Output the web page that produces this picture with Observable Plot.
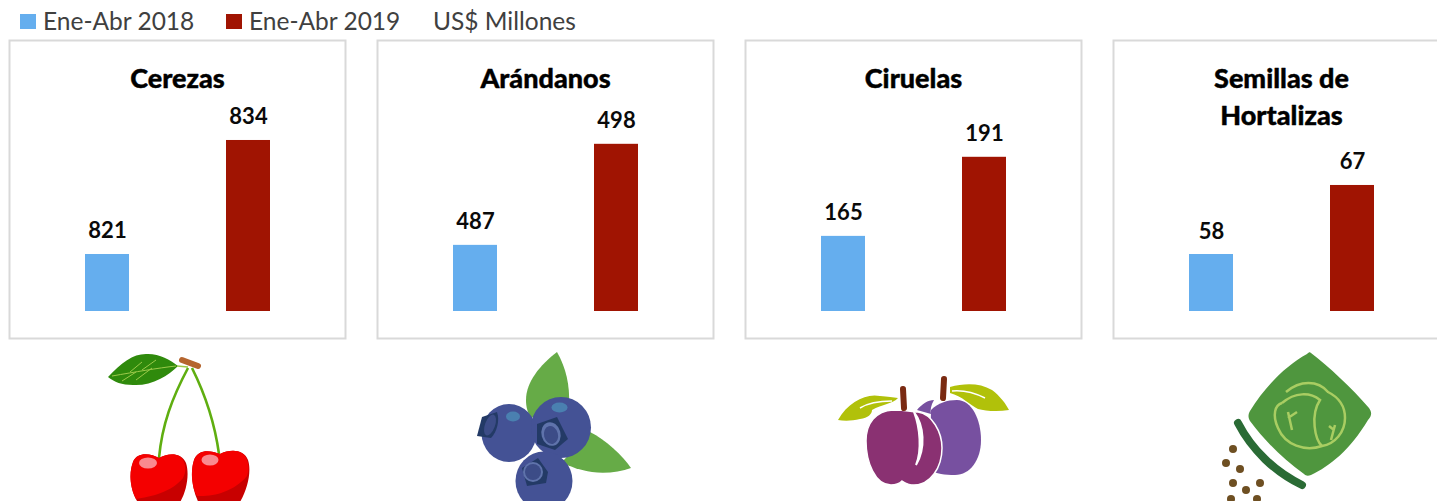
<!DOCTYPE html>
<html><head><meta charset="utf-8">
<script src="https://cdn.jsdelivr.net/npm/d3@7"></script>
<script src="https://cdn.jsdelivr.net/npm/@observablehq/plot@0.6"></script>
<style>
html,body{margin:0;padding:0;background:#fff;width:1437px;height:501px;overflow:hidden;position:relative}
.lg{position:absolute;top:7px;font:400 24.5px/28px Lato,sans-serif;color:#404040;white-space:nowrap}
.sw{position:absolute;top:14px;width:16px;height:15px}
.panel{position:absolute;top:39px}
#icons{position:absolute;left:0;top:0}
</style></head><body>
<script>
const periods = ["Ene-Abr 2018", "Ene-Abr 2019"];
const colors = ["#65aeee", "#a01402"];
const unit = "US$ Millones";
const products = ["Cerezas", "Arándanos", "Ciruelas", "Semillas de\nHortalizas"];
const values2018 = [821, 487, 165, 58];
const values2019 = [834, 498, 191, 67];
// the original panels use independent, truncated value axes
const axisFloor = [814.5, 479.8, 140.3, 50.57];
const axisCeil = [845.4, 509.3, 229.4, 85.9];
const panelLeft = [8, 376, 744, 1112];

const font = "Lato, sans-serif";
function legend(text, left, swatch) {
  if (swatch) {
    const s = document.createElement("div");
    s.className = "sw"; s.style.left = (left - 23) + "px"; s.style.background = swatch;
    document.body.append(s);
  }
  const d = document.createElement("div");
  d.className = "lg"; d.style.left = left + "px"; d.textContent = text;
  document.body.append(d);
}
legend(periods[0], 43, colors[0]);
legend(periods[1], 249, colors[1]);
legend(unit, 433);

products.forEach((name, i) => {
  const rows = [
    {period: periods[0], value: values2018[i]},
    {period: periods[1], value: values2019[i]}
  ];
  const chart = Plot.plot({
    width: 338, height: 300,
    marginTop: 1, marginRight: 1, marginBottom: 1, marginLeft: 1,
    style: {fontFamily: font, background: "transparent", overflow: "visible"},
    x: {axis: null, domain: periods, range: [76.5, 261.5], paddingInner: 0.69, paddingOuter: 0},
    y: {axis: null, domain: [axisFloor[i], axisCeil[i]], range: [272, 1]},
    color: {domain: periods, range: colors},
    marks: [
      Plot.frame({stroke: "#d9d9d9", strokeWidth: 2}),
      Plot.barY(rows, {x: "period", y1: () => axisFloor[i], y2: "value", fill: "period"}),
      Plot.text(rows, {x: "period", y: "value", text: d => String(d.value), dy: -16, lineAnchor: "bottom",
        fontSize: 22, fontWeight: 700, fill: "#0a0a0a"}),
      Plot.text([name], {frameAnchor: "top", dy: 21, lineAnchor: "top", lineHeight: 1.37,
        fontSize: 27, fontWeight: 900, fill: "#000", stroke: "#000", strokeWidth: 0.4, text: d => d})
    ]
  });
  chart.classList.add("panel");
  chart.style.left = panelLeft[i] + "px";
  document.body.append(chart);
});

const icons = `<svg id="icons" width="1437" height="501" xmlns="http://www.w3.org/2000/svg">
<!-- cherries -->
<path d="M108 377C122 362 134 353 148 354C160 354 170 360 178 366C168 376 152 386 133 385C122 385 114 382 108 377Z" fill="#2f8a0c"/>
<path d="M112 376C135 372 158 368 176 366M130 372L142 362M142 370L156 360M122 381L136 372M136 380L152 368" stroke="#9cc94a" stroke-width="1" fill="none"/>
<path d="M177 366L188 367" stroke="#9cc94a" stroke-width="1.5"/>
<path d="M188 368C172 398 162 425 159 458" stroke="#5fae10" stroke-width="2.6" fill="none"/>
<path d="M192 368C206 396 215 425 219 454" stroke="#5fae10" stroke-width="2.6" fill="none"/>
<path d="M182 360L198 366" stroke="#b5652e" stroke-width="6" stroke-linecap="round"/>
<path d="M159 458C150 453 137 452 133 462C128 475 131 495 140 505L178 505C186 495 190 475 186 463C182 452 168 453 159 458Z" fill="#c80000"/>
<path d="M159 458C150 453 137 452 133 462C128 475 131 490 136 499C150 497 172 492 183 478C186 472 186 468 184 462C180 452 168 453 159 458Z" fill="#f40000"/>
<path d="M220 454C210 450 198 449 194 460C190 472 192 492 200 505L238 505C247 492 252 472 248 460C244 449 230 449 220 454Z" fill="#c80000"/>
<path d="M220 454C210 450 198 449 194 460C190 472 192 488 197 496C212 497 234 492 247 476C249 470 249 465 247 460C244 449 230 449 220 454Z" fill="#f40000"/>
<ellipse cx="148" cy="463" rx="9" ry="5.5" fill="#f98a8f"/>
<ellipse cx="210" cy="460" rx="8.5" ry="5.5" fill="#f98a8f"/>
<!-- blueberries -->
<path d="M557 352C540 365 526 382 526 400C526 408 528 413 531 418L569 405C570 385 566 368 557 352Z" fill="#66ab47"/>
<path d="M590 432C606 440 622 455 631 468C620 472 605 474 592 472C580 470 570 467 562 462Z" fill="#66ab47"/>
<ellipse cx="509" cy="433" rx="27.5" ry="29" fill="#445295"/>
<ellipse cx="561" cy="427.500" rx="30" ry="30.500" fill="#445295"/>
<ellipse cx="544" cy="481" rx="28.500" ry="29.500" fill="#445295"/>
<path d="M482 417L497 412C500 420 497 432 491 438L477 436Z" fill="#233a66"/>
<ellipse cx="490" cy="425" rx="5" ry="11" transform="rotate(20 490 425)" fill="#3c4c87"/>
<path d="M537 424L557 417L568 439L555 450L537 444Z" fill="#233a66"/>
<ellipse cx="551" cy="434" rx="9.500" ry="12" transform="rotate(-15 551 434)" fill="#5f73ab"/>
<ellipse cx="551" cy="435" rx="7" ry="9" transform="rotate(-15 551 435)" fill="#3c4c87"/>
<path d="M522 468L538 458L548 472L546 483L527 486Z" fill="#233a66"/>
<ellipse cx="533" cy="472" rx="10" ry="10" fill="#5f73ab"/>
<ellipse cx="533" cy="472" rx="8" ry="8" fill="#3c4c87"/>
<ellipse cx="559.500" cy="407.500" rx="8" ry="5" fill="#4a80b0"/>
<ellipse cx="513" cy="416.500" rx="7" ry="5" fill="#4a80b0"/>
<!-- plums -->
<path d="M838 420C848 402 866 393 880 396C888 397 893 397 898 398C893 404 882 404 872 410C872 414 868 418 860 419C852 421 844 421 838 420Z" fill="#b1c10a"/>
<path d="M860 408C868 403 880 401 892 401" stroke="#fff" stroke-width="1.5" fill="none"/>
<path d="M950 387C965 383 980 383 992 390C1000 396 1006 404 1009 410C998 412 985 411 978 409C970 405 962 396 950 393Z" fill="#b1c10a"/>
<path d="M952 391C962 390 975 393 985 398" stroke="#fff" stroke-width="1.5" fill="none"/>
<path d="M917 410C922 404 928 400 934 400C931 405 930 410 931 414Z" fill="#7750a0"/>
<path d="M957 400C972 400 981 420 981 440C981 460 970 475 955 475C945 475 936 474 930 470L931 410C938 403 947 400 957 400Z" fill="#7750a0"/>
<path d="M893 410C906 410 914 412 918 412C932 414 942 432 942 448C942 468 930 485 914 485C910 485 905 483 902 481C899 484 895 485 891 485C875 485 866 462 866 441C866 423 876 411 893 410Z" fill="#8a3172" stroke="#fff" stroke-width="1.5"/>
<path d="M914 412C924 425 926 448 916 465C922 450 920 428 914 412Z" fill="#fff" stroke="#fff" stroke-width="2"/>
<path d="M903 389L904 408" stroke="#7a2a12" stroke-width="6" stroke-linecap="round"/>
<path d="M944 379L943 398" stroke="#7a2a12" stroke-width="6" stroke-linecap="round"/>
<!-- seed bag -->
<path d="M1311 353C1328 366 1352 388 1369 408C1372 412 1372 416 1368 420C1350 450 1330 466 1311 475C1308 476 1306 476 1304 474C1282 458 1264 440 1250 421C1248 418 1248 414 1250 411C1264 388 1285 366 1307 354C1309 352 1310 352 1311 353Z" fill="#4f963e"/>
<g fill="none" stroke="#a9cd62" stroke-width="2.500">
<path d="M1282 403C1295 392 1310 392 1320 400C1310 415 1315 440 1322 446M1286 392C1300 380 1318 380 1328 392C1340 398 1345 408 1345 418C1345 432 1335 444 1322 446C1305 452 1285 445 1278 428C1272 415 1275 405 1282 403M1288 412L1292 430M1288 418L1297 412M1335 425L1331 440M1334 430L1329 426"/>
</g>
<path d="M1238 423C1252 450 1275 472 1302 485" fill="none" stroke="#2a6b35" stroke-width="8" stroke-linecap="round"/>
<g fill="#6e4f22">
<circle cx="1233" cy="449" r="4"/><circle cx="1226" cy="463" r="4"/><circle cx="1240" cy="469" r="4"/>
<circle cx="1233" cy="483" r="4"/><circle cx="1260" cy="483" r="4"/><circle cx="1246" cy="490" r="4"/>
<circle cx="1231" cy="499" r="4"/><circle cx="1257" cy="499" r="4"/>
</g>
</svg>`;
const holder = document.createElement("div");
holder.innerHTML = icons;
document.body.append(holder);
</script>
</body></html>
